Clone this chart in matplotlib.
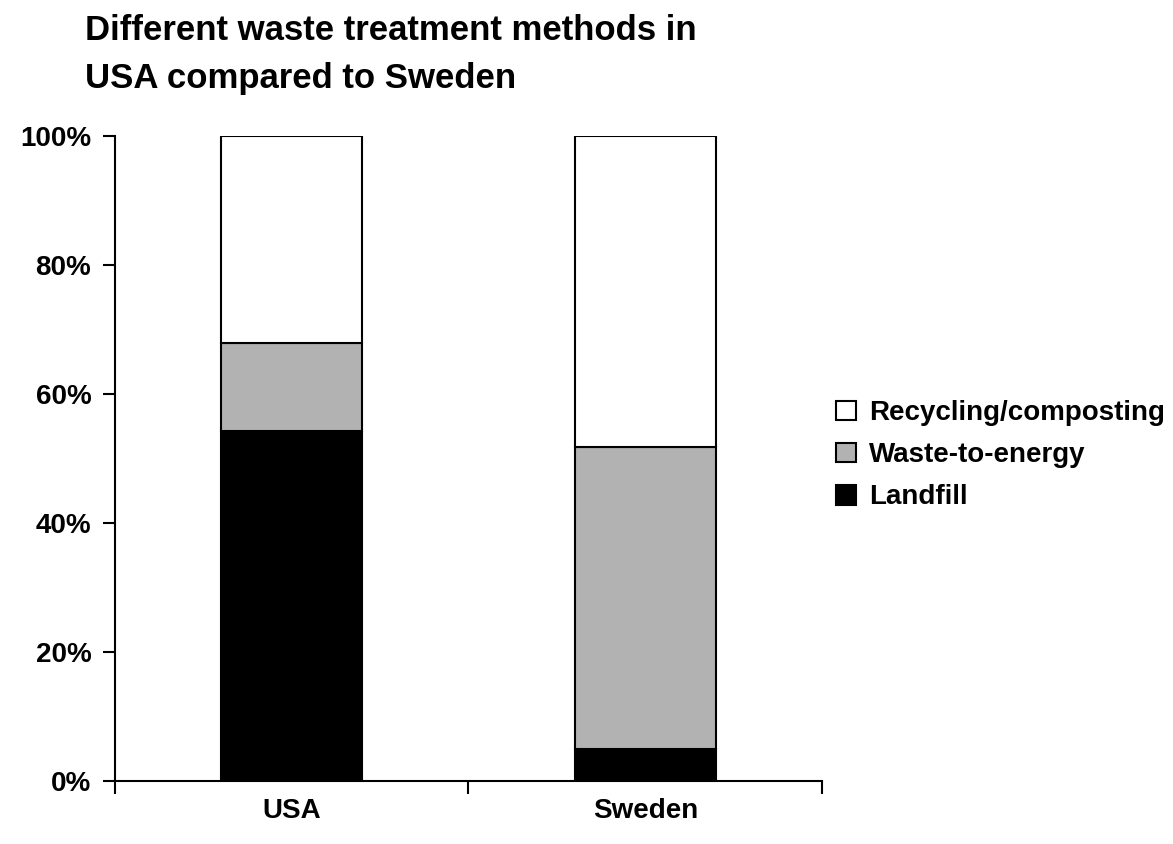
import numpy as np
import matplotlib.pyplot as plt
from matplotlib import font_manager

countries = ["USA", "Sweden"]
landfill = [54.3, 5.0]
waste_to_energy = [13.6, 46.8]
recycling = [32.1, 48.2]

names = {f.name for f in font_manager.fontManager.ttflist}
fam = "Liberation Sans Narrow" if "Liberation Sans Narrow" in names else "Liberation Sans"
plt.rcParams['font.family'] = [fam, 'DejaVu Sans']
plt.rcParams['font.weight'] = 'bold'

fig = plt.figure(figsize=(11.73, 8.44), dpi=100)
ax = fig.add_axes([0.098, 0.0746, 0.6028, 0.7643])

x = np.arange(len(countries))
w = 0.4
b1 = ax.bar(x, landfill, w, color='black', edgecolor='black', linewidth=1.5, label='Landfill')
b2 = ax.bar(x, waste_to_energy, w, bottom=landfill, color='#b2b2b2',
            edgecolor='black', linewidth=1.5, label='Waste-to-energy')
bottom2 = [a + b for a, b in zip(landfill, waste_to_energy)]
b3 = ax.bar(x, recycling, w, bottom=bottom2, color='white',
            edgecolor='black', linewidth=1.5, label='Recycling/composting')

ax.set_xlim(-0.5, 1.5)
ax.set_ylim(0, 100)
ax.set_yticks(range(0, 101, 20))
ax.set_yticklabels([f"{v}%" for v in range(0, 101, 20)], fontsize=20, fontweight='bold')
ax.set_xticks(x)
ax.set_xticklabels(countries, fontsize=20, fontweight='bold')
ax.tick_params(axis='x', which='major', length=0, pad=12)
ax.set_xticks([-0.5, 0.5, 1.5], minor=True)
ax.tick_params(axis='x', which='minor', length=9, width=1.5, direction='out')
ax.tick_params(axis='y', length=9, width=1.5, direction='out', pad=8)

for s in ['top', 'right']:
    ax.spines[s].set_visible(False)
for s in ['left', 'bottom']:
    ax.spines[s].set_linewidth(1.5)

leg = ax.legend(handles=[b3, b2, b1], loc='center left', bbox_to_anchor=(1.02, 0.505),
                frameon=False, fontsize=20, handlelength=0.72, handleheight=0.72,
                handletextpad=0.45, labelspacing=0.58, borderpad=0, borderaxespad=0)

fig.text(0.0725, 0.983, "Different waste treatment methods in\nUSA compared to Sweden",
         fontsize=25, fontweight='bold', ha='left', va='top', linespacing=1.55)

fig.savefig("out.png", dpi=100)
